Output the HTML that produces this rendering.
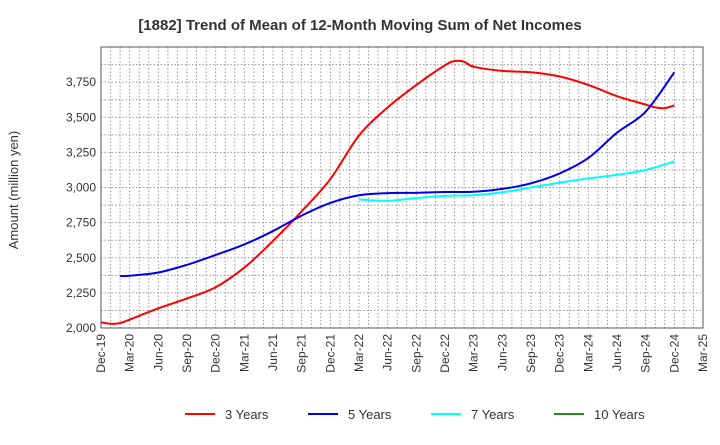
<!DOCTYPE html>
<html><head><meta charset="utf-8"><style>
body{margin:0;background:#fff;width:720px;height:440px;overflow:hidden;font-family:"Liberation Sans",sans-serif}
</style></head><body>
<svg id="chart" width="720" height="440" xmlns="http://www.w3.org/2000/svg">
<text x="360" y="30" text-anchor="middle" font-size="15" font-weight="bold" fill="#333">[1882]  Trend of Mean of 12-Month Moving Sum of Net Incomes</text>
<text transform="translate(18,190) rotate(-90)" text-anchor="middle" font-size="13" fill="#333">Amount (million yen)</text>
<g id="grid"></g><g id="axes"></g><g id="series"></g><g id="legend"></g>
</svg>
<script>
const xLabels=["Dec-19","Mar-20","Jun-20","Sep-20","Dec-20","Mar-21","Jun-21","Sep-21","Dec-21","Mar-22","Jun-22","Sep-22","Dec-22","Mar-23","Jun-23","Sep-23","Dec-23","Mar-24","Jun-24","Sep-24","Dec-24","Mar-25"];
const yTicks=[2000,2250,2500,2750,3000,3250,3500,3750];
const yTickLabels=["2,000","2,250","2,500","2,750","3,000","3,250","3,500","3,750"];
// month index (0 = Dec-19), value
const threeYrMonths=[0,1,2,3,6,9,12,15,18,21,24,27,30,33,36,37,38,39,42,45,48,51,54,57,58,59,60];
const threeYr=[2040,2030,2035,2060,2140,2210,2290,2430,2620,2830,3060,3370,3570,3730,3870,3900,3895,3860,3830,3820,3790,3730,3650,3590,3570,3565,3585];
const fiveYrMonths=[2,3,6,9,12,15,18,21,24,27,30,33,36,39,42,45,48,51,54,57,60];
const fiveYr=[2370,2372,2395,2450,2520,2595,2690,2800,2890,2945,2960,2962,2968,2970,2990,3030,3100,3210,3390,3540,3820];
const sevenYrMonths=[27,30,33,36,39,42,45,48,51,54,57,60];
const sevenYr=[2915,2905,2925,2940,2945,2965,3000,3035,3065,3090,3125,3185];
const tenYrMonths=[];const tenYr=[];
</script>
<script>
const NS="http://www.w3.org/2000/svg";
const L=101,R=703,T=47,B=328,months=63;
const xs=m=>L+(R-L)*m/months;
const ys=v=>B-(B-T)*(v-2000)/2000;
function mk(tag,attrs,parent){const e=document.createElementNS(NS,tag);for(const k in attrs)e.setAttribute(k,attrs[k]);parent.appendChild(e);return e;}
const grid=document.getElementById('grid'),axes=document.getElementById('axes'),ser=document.getElementById('series'),leg=document.getElementById('legend');
for(let m=1;m<months;m++){const l=mk('line',{x1:xs(m),x2:xs(m),y1:T,y2:B,stroke:'#999','stroke-dasharray':'1.5,2','stroke-width':1},grid);

}
for(let v=2125;v<4000;v+=125){const l=mk('line',{x1:L,x2:R,y1:ys(v),y2:ys(v),stroke:'#999','stroke-dasharray':'1.5,2','stroke-width':1},grid);

}
const fr=mk('rect',{x:L,y:T,width:R-L,height:B-T,fill:'none',stroke:'#555','stroke-width':1},axes);


yTicks.forEach((v,i)=>{const t=mk('text',{x:L-5,y:ys(v)+4,'text-anchor':'end','font-size':12,fill:'#333'},axes);t.textContent=yTickLabels[i];

});
xLabels.forEach((s,i)=>{const x=xs(i*3);const t=mk('text',{transform:`translate(${x+4},${B+6}) rotate(-90)`,'text-anchor':'end','font-size':12,fill:'#333'},axes);t.textContent=s;

});
function path(ms,vs){if(!vs.length)return'';const p=ms.map((m,i)=>[xs(m),ys(vs[i])]);let d=`M${p[0][0]},${p[0][1]}`;
for(let i=0;i<p.length-1;i++){const p0=p[Math.max(0,i-1)],p1=p[i],p2=p[i+1],p3=p[Math.min(p.length-1,i+2)];
const c1=[p1[0]+(p2[0]-p0[0])/6,p1[1]+(p2[1]-p0[1])/6],c2=[p2[0]-(p3[0]-p1[0])/6,p2[1]-(p3[1]-p1[1])/6];
d+=`C${c1[0]},${c1[1]} ${c2[0]},${c2[1]} ${p2[0]},${p2[1]}`;}return d;}
const series=[["3 Years","#ff0000",threeYrMonths,threeYr,"series-3-years"],["5 Years","#0000ee",fiveYrMonths,fiveYr,"series-5-years"],["7 Years","#00ffff",sevenYrMonths,sevenYr,"series-7-years"],["10 Years","#228b22",tenYrMonths,tenYr,"series-10-years"]];
series.forEach(([n,c,ms,vs,id],i)=>{
if(vs.length){const p=mk('path',{d:path(ms,vs),fill:'none',stroke:c,'stroke-width':2},ser);

}
const lx=185+i*123;
const g=mk('g',{},leg);


mk('line',{x1:lx,x2:lx+30,y1:414,y2:414,stroke:c,'stroke-width':2},g);
const t=mk('text',{x:lx+40,y:419,'font-size':13,fill:'#333'},g);t.textContent=n;});
</script>
</body></html>
